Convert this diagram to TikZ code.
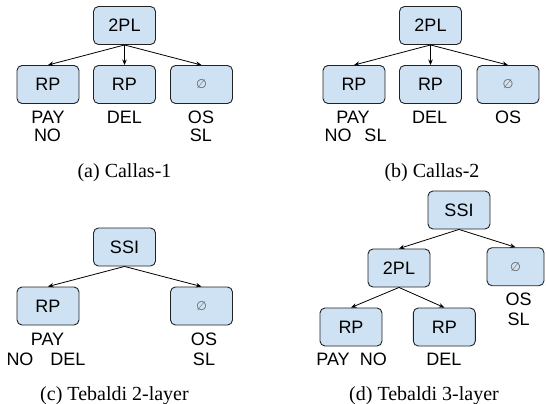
\documentclass[tikz,border=0pt]{standalone}
\usepackage{fontspec}
\setmainfont{Liberation Serif}
\newfontfamily\labfont{Liberation Sans}
\newfontfamily\symfont{DejaVu Sans}
\usetikzlibrary{arrows.meta}
\definecolor{boxblue}{HTML}{CFE2F3}
\definecolor{boxline}{HTML}{222222}
\definecolor{emptygray}{HTML}{666666}
\newcommand{\lab}{\labfont\fontsize{18}{20}\selectfont}
\newcommand{\capf}{\rmfamily\fontsize{20}{22}\selectfont}
\newcommand{\emptymark}{\textcolor{emptygray}{\symfont\fontsize{12.5}{13}\selectfont ∅}}
\tikzset{
  box/.style={draw=boxline, fill=boxblue, rounded corners=5pt, minimum width=62pt,
    minimum height=38pt, inner sep=0pt, font=\lab, line width=0.9pt},
  lbl/.style={anchor=base, inner sep=0pt, font=\lab},
  captxt/.style={anchor=base, inner sep=0pt, font=\capf},
  arr/.style={-{Stealth[length=5.5pt,width=4.5pt]}, line width=0.8pt, draw=black}
}
\begin{document}
\begin{tikzpicture}[x=1pt,y=-1pt]
\useasboundingbox (0,0) rectangle (546,404);
% (a)
\node[box] (a0) at (124.5,25.5) {2PL};
\node[box] (a1) at (48,84.5) {RP};
\node[box] (a2) at (124.5,84.5) {RP};
\node[box] (a3) at (201.5,84.5) {\emptymark};
\draw[arr] (a0.south) -- (a1.north);
\draw[arr] (a0.south) -- (a2.north);
\draw[arr] (a0.south) -- (a3.north);
\node[lbl] (a1l1) at (48,123.3) {PAY};
\node[lbl] (a1l2) at (47.5,141.7) {NO};
\node[lbl] (a2l1) at (124.5,123.3) {DEL};
\node[lbl] (a3l1) at (201,123.3) {OS};
\node[lbl] (a3l2) at (201,141.7) {SL};
\node[captxt] (acap) at (124.5,177) {(a) Callas-1};
% (b)
\node[box] (b0) at (430.5,25.5) {2PL};
\node[box] (b1) at (354,84.5) {RP};
\node[box] (b2) at (430.5,84.5) {RP};
\node[box] (b3) at (508,84.5) {\emptymark};
\draw[arr] (b0.south) -- (b1.north);
\draw[arr] (b0.south) -- (b2.north);
\draw[arr] (b0.south) -- (b3.north);
\node[lbl] (b1l1) at (353,123.3) {PAY};
\node[lbl] (b1l2) at (338,141.7) {NO};
\node[lbl] (b1l3) at (375.5,141.7) {SL};
\node[lbl] (b2l1) at (429.7,123.3) {DEL};
\node[lbl] (b3l1) at (508,123.3) {OS};
\node[captxt] (bcap) at (432,177) {(b) Callas-2};
% (c)
\node[box] (c0) at (124.5,247) {SSI};
\node[box] (c1) at (48,306) {RP};
\node[box] (c2) at (201.5,306) {\emptymark};
\draw[arr] (c0.south) -- (c1.north);
\draw[arr] (c0.south) -- (c2.north);
\node[lbl] (c1l1) at (47.5,345) {PAY};
\node[lbl] (c1l2) at (20,365) {NO};
\node[lbl] (c1l3) at (68,365) {DEL};
\node[lbl] (c2l1) at (204,345) {OS};
\node[lbl] (c2l2) at (204,365) {SL};
\node[captxt] (ccap) at (114.5,400) {(c) Tebaldi 2-layer};
% (d)
\node[box] (d0) at (459,210) {SSI};
\node[box] (d1) at (399,268) {2PL};
\node[box, minimum width=57pt] (d2) at (515.5,266.7) {\emptymark};
\node[box] (d3) at (351,327) {RP};
\node[box] (d4) at (444.3,327) {RP};
\draw[arr] (d0.south) -- (d1.north);
\draw[arr] (d0.south) -- (d2.north);
\draw[arr] (d1.south) -- (d3.north);
\draw[arr] (d1.south) -- (d4.north);
\node[lbl] (d2l1) at (518.7,305) {OS};
\node[lbl] (d2l2) at (518.7,325) {SL};
\node[lbl] (d3l1) at (333,365) {PAY};
\node[lbl] (d3l2) at (373.3,365) {NO};
\node[lbl] (d4l1) at (444,365) {DEL};
\node[captxt] (dcap) at (424,400) {(d) Tebaldi 3-layer};
\end{tikzpicture}
\end{document}
